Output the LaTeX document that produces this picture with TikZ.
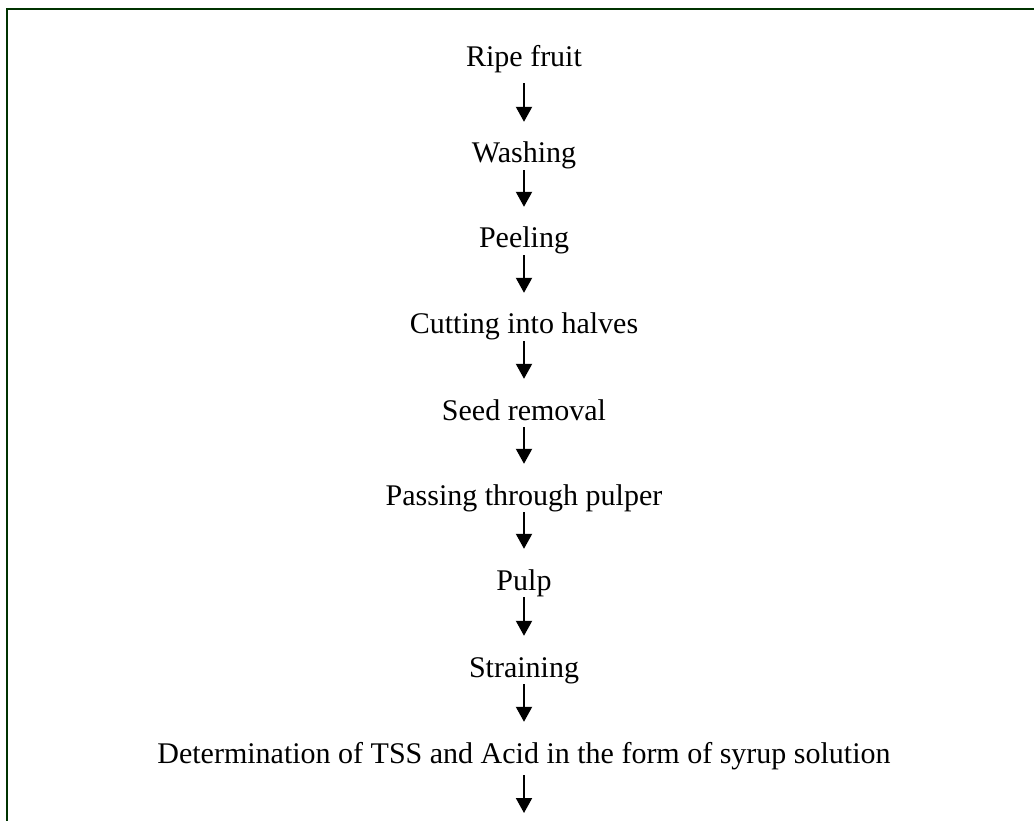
\documentclass[tikz,border=0pt]{standalone}
\usepackage{fontspec}
\setmainfont{Liberation Serif}
\usetikzlibrary{arrows.meta}
\definecolor{framegreen}{RGB}{0,51,0}

\begin{document}
\begin{tikzpicture}[x=1pt, y=1pt, every node/.style={inner sep=0pt, anchor=base,
  text height=20pt, text depth=7pt, font=\fontsize{30}{35}\selectfont},
  >={Triangle[width=16pt, length=15pt]}, flow/.style={->, line width=2pt, shorten >=21pt}]
  \useasboundingbox (0,0) rectangle (1034,-821);
  \draw[framegreen, line width=2.5pt] (7,-821) -- (7,-9) -- (1034,-9);
  \foreach \n/\b/\t in {fruit/67/Ripe fruit, wash/163/Washing, peel/248/Peeling,
    cut/334/Cutting into halves, seed/420/Seed removal,
    pulper/505/Passing through pulper, pulp/590/Pulp, strain/677/Straining,
    det/763/Determination of TSS and Acid in the form of syrup solution} {
    \node (\n) at (524,-\b) {\t};
  }
  \coordinate (out) at (524,-813);
  \draw[flow, shorten <=9pt] (fruit.south)--(wash.north);
  \draw[flow] (wash.south)--(peel.north);
  \draw[flow] (peel.south)--(cut.north);
  \draw[flow] (cut.south)--(seed.north);
  \draw[flow] (seed.south)--(pulper.north);
  \draw[flow] (pulper.south)--(pulp.north);
  \draw[flow] (pulp.south)--(strain.north);
  \draw[flow] (strain.south)--(det.north);
  \draw[flow, shorten >=0pt, shorten <=5pt] (det.south)--(out);
\end{tikzpicture}
\end{document}
